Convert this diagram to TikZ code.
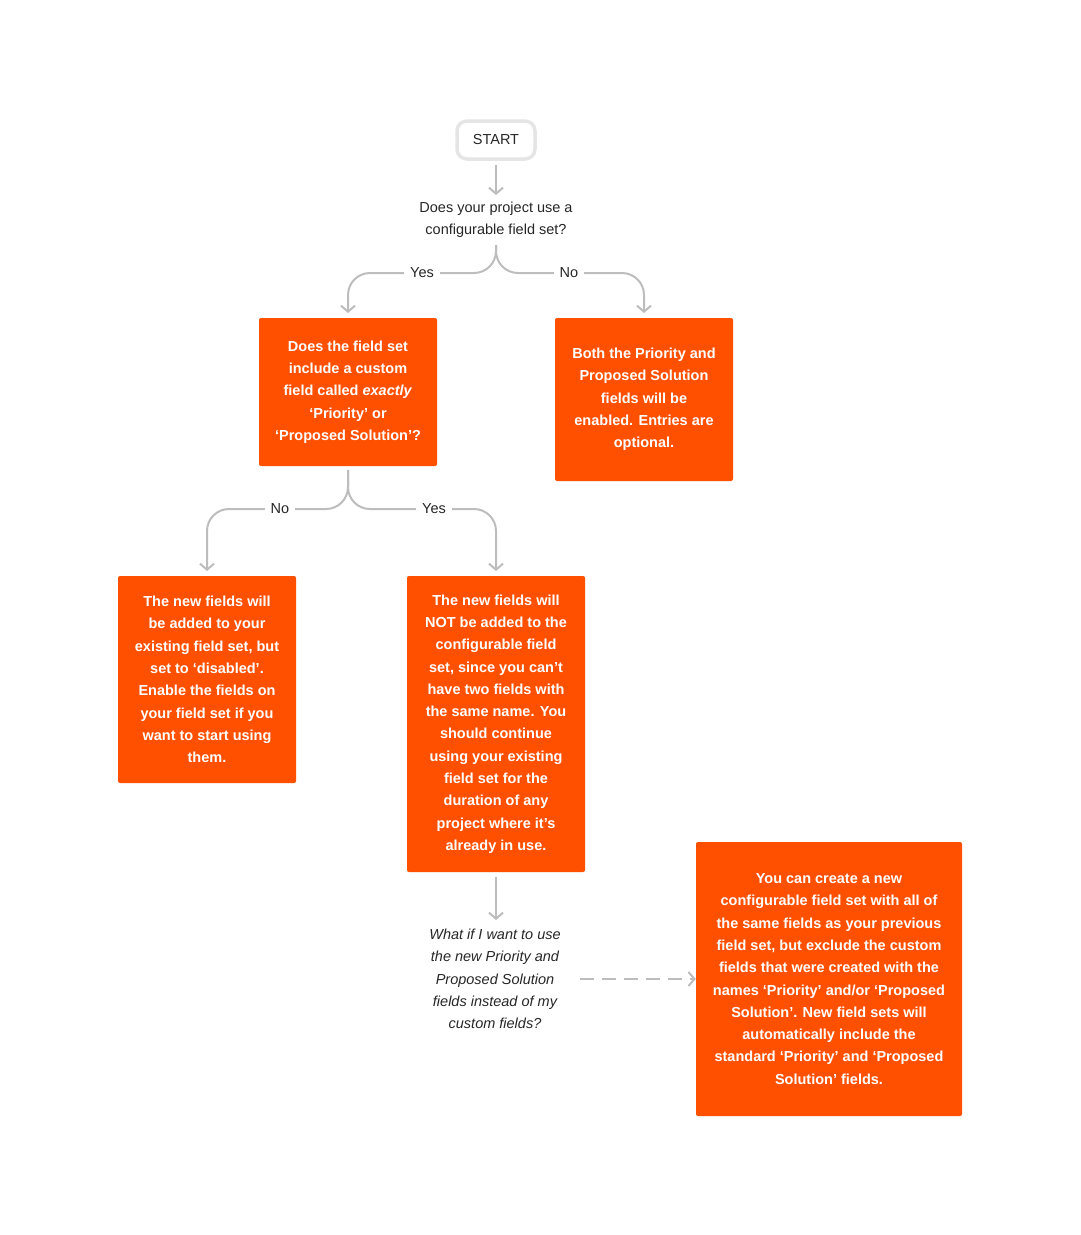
\documentclass[tikz,border=0pt]{standalone}
\usepackage{fontspec}
\setmainfont{Liberation Sans}
\usetikzlibrary{arrows.meta}
\definecolor{org}{HTML}{FF5000}
\definecolor{ln}{HTML}{BDBDBD}
\begin{document}
\begin{tikzpicture}[x=1pt,y=-1pt,
  box/.style={fill=org,rounded corners=2pt,text=white,font=\bfseries\fontsize{14.5}{22.3}\selectfont,align=center,inner sep=0pt},
  conn/.style={draw=ln,line width=2pt,rounded corners=22pt,-{Straight Barb[length=6pt,width=14pt]}},
  lbl/.style={fill=white,font=\fontsize{14.5}{18}\selectfont,text=black!85,inner xsep=6pt},
  plain/.style={font=\fontsize{14.5}{22.3}\selectfont,text=black!85,align=center}]
\useasboundingbox (0,0) rectangle (1081,1235);
\node[draw=black!10,line width=3.5pt,rounded corners=10pt,minimum width=78pt,minimum height=38pt,font=\fontsize{14.5}{18}\selectfont,text=black!85] (start) at (496,140) {START};
\node[plain] (q1) at (496,220) {Does your project use a\\configurable field set?};
\node[box,minimum width=178pt,minimum height=148pt] (b1) at (348,392) {Does the field set\\include a custom\\field called \textit{exactly}\\‘Priority’ or\\‘Proposed Solution’?};
\node[box,minimum width=178pt,minimum height=163pt] (b2) at (644,399.5) {Both the Priority and\\Proposed Solution\\fields will be\\enabled. Entries are\\optional.};
\node[box,minimum width=178pt,minimum height=207pt] (b3) at (207,679.5) {The new fields will\\be added to your\\existing field set, but\\set to ‘disabled’.\\Enable the fields on\\your field set if you\\want to start using\\them.};
\node[box,minimum width=178pt,minimum height=296pt] (b4) at (496,724) {The new fields will\\NOT be added to the\\configurable field\\set, since you can’t\\have two fields with\\the same name. You\\should continue\\using your existing\\field set for the\\duration of any\\project where it’s\\already in use.};
\node[box,minimum width=266pt,minimum height=274pt] (b5) at (829,979) {You can create a new\\configurable field set with all of\\the same fields as your previous\\field set, but exclude the custom\\fields that were created with the\\names ‘Priority’ and/or ‘Proposed\\Solution’. New field sets will\\automatically include the\\standard ‘Priority’ and ‘Proposed\\Solution’ fields.};
\node[plain,font=\itshape\fontsize{14.5}{22.3}\selectfont] (q2) at (495,979) {What if I want to use\\the new Priority and\\Proposed Solution\\fields instead of my\\custom fields?};
\coordinate (j1) at (496,245);
\coordinate (j2) at (348,470);
\draw[conn] (start.south) ++(0,4) -- (496,195);
\draw[conn] (j1) -- (496,273) -- (348,273) -- (348,313);
\draw[conn] (j1) -- (496,273) -- (644,273) -- (644,313);
\node[lbl] (yes1) at (422,273) {Yes};
\node[lbl] (no1) at (569,273) {No};
\draw[conn] (j2) -- (348,509) -- (207,509) -- (207,571);
\draw[conn] (j2) -- (348,509) -- (496,509) -- (496,571);
\node[lbl] (no2) at (280,509) {No};
\node[lbl] (yes2) at (434,509) {Yes};
\draw[conn] (b4.south) ++(0,5) -- (496,920);
\draw[conn,rounded corners=0pt,dash pattern=on 14pt off 8pt] (580,979) -- (b5.west);
\end{tikzpicture}
\end{document}
